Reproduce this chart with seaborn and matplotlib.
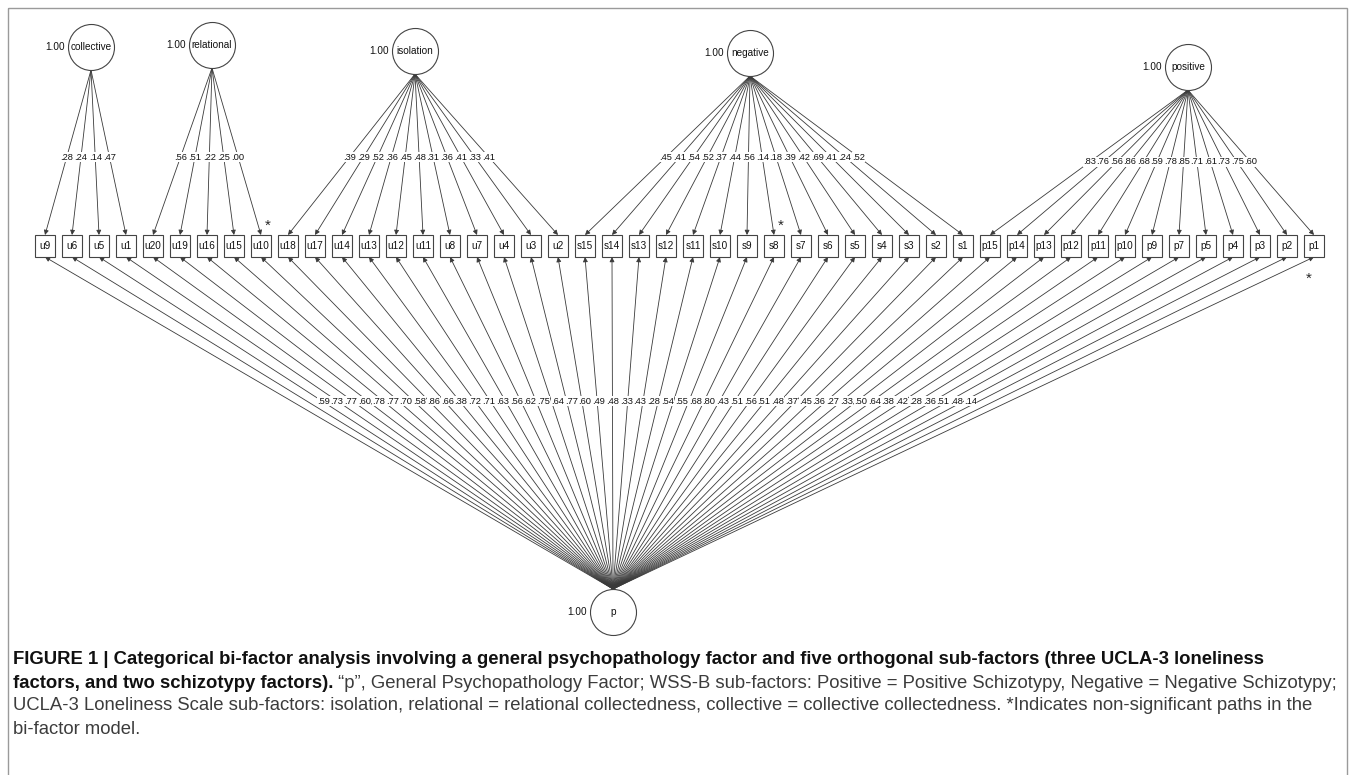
import numpy as np
import pandas as pd
import seaborn as sns
import matplotlib.pyplot as plt
from matplotlib.patches import Rectangle

sns.set_theme(style="white")
plt.rcParams['font.family'] = ['Liberation Sans', 'DejaVu Sans']

# ---- data ----
collective_items = ['u9', 'u6', 'u5', 'u1']
collective_load = ['.28', '.24', '.14', '.47']
relational_items = ['u20', 'u19', 'u16', 'u15', 'u10']
relational_load = ['.56', '.51', '.22', '.25', '.00']
isolation_items = ['u18', 'u17', 'u14', 'u13', 'u12', 'u11', 'u8', 'u7', 'u4', 'u3', 'u2']
isolation_load = ['.39', '.29', '.52', '.36', '.45', '.48', '.31', '.36', '.41', '.33', '.41']
negative_items = ['s15', 's14', 's13', 's12', 's11', 's10', 's9', 's8', 's7', 's6', 's5',
                  's4', 's3', 's2', 's1']
negative_load = ['.45', '.41', '.54', '.52', '.37', '.44', '.56', '.14', '.18', '.39', '.42',
                 '.69', '.41', '.24', '.52']
positive_items = ['p15', 'p14', 'p13', 'p12', 'p11', 'p10', 'p9', 'p7', 'p5', 'p4', 'p3', 'p2', 'p1']
positive_load = ['.83', '.76', '.56', '.86', '.68', '.59', '.78', '.85', '.71', '.61', '.73',
                 '.75', '.60']
general_load = ['.59', '.73', '.77', '.60', '.78', '.77', '.70', '.58', '.86', '.66', '.38', '.72',
                '.71', '.63', '.56', '.62', '.75', '.64', '.77', '.60', '.49', '.48', '.33', '.43',
                '.28', '.54', '.55', '.68', '.80', '.43', '.51', '.56', '.51', '.48', '.37', '.45',
                '.36', '.27', '.33', '.50', '.64', '.38', '.42', '.28', '.36', '.51', '.48', '.14']
factor_names = ['collective', 'relational', 'isolation', 'negative', 'positive']
factor_variance = ['1.00', '1.00', '1.00', '1.00', '1.00']
nonsig_sub = ['u10', 's8']
nonsig_general = ['p1']

# ---- layout (pixels) ----
W, H = 1355, 775
BOX_X0, BOX_DX = 45, 27.0
BOX_W, BOX_TOP, BOX_BOT = 20, 235, 257
R = 23
factor_xy = {'collective': (91, 47), 'relational': (212, 45), 'isolation': (415, 51),
             'negative': (750, 53), 'positive': (1188, 67)}
P_XY = (613, 612)
SUB_LABEL_Y = {'collective': 157, 'relational': 157, 'isolation': 157, 'negative': 157,
               'positive': 162}
GEN_LABEL_Y = 401
LINE_COL = '#3a3a3a'
LAB_FS = 6.7

rows = []
for f, items, loads in zip(factor_names,
                           [collective_items, relational_items, isolation_items,
                            negative_items, positive_items],
                           [collective_load, relational_load, isolation_load,
                            negative_load, positive_load]):
    for it, ld in zip(items, loads):
        rows.append({'item': it, 'factor': f, 'load': ld})
ind = pd.DataFrame(rows)
ind['general'] = general_load
ind['x'] = BOX_X0 + BOX_DX * np.arange(len(ind))

fig = plt.figure(figsize=(W / 100, H / 100), dpi=100)
ax = fig.add_axes([0, 0, 1, 1])

# outer frame (bottom edge falls off the canvas)
ax.add_patch(Rectangle((8, 8), W - 16, H + 20, fill=False, ec='#9a9a9a', lw=1))


def arrow(x0, y0, x1, y1):
    ax.annotate('', xy=(x1, y1), xytext=(x0, y0),
                arrowprops=dict(arrowstyle='-|>', color=LINE_COL, lw=0.6,
                                mutation_scale=7, shrinkA=0, shrinkB=0), zorder=2)


def edge_label(x, y, s):
    # white knock-out under the text first, then the text itself on top of all knock-outs
    ax.text(x, y, s, fontsize=LAB_FS, ha='center', va='center', color='white', zorder=3,
            bbox=dict(fc='white', ec='none', pad=0.2))
    ax.text(x, y, s, fontsize=LAB_FS, ha='center', va='center', color='#111111', zorder=4)


# sub-factor paths
for _, r in ind.iterrows():
    cx, cy = factor_xy[r['factor']]
    x0, y0 = cx, cy + R
    arrow(x0, y0, r['x'], BOX_TOP)
    ly = SUB_LABEL_Y[r['factor']]
    t = (ly - y0) / (BOX_TOP - y0)
    edge_label(x0 + t * (r['x'] - x0), ly, r['load'])

# general factor paths (labels near the edge midpoints)
px, py = P_XY
for _, r in ind.iterrows():
    x0, y0 = px, py - R
    arrow(x0, y0, r['x'], BOX_BOT)
    edge_label(x0 + 0.51 * (r['x'] - x0), GEN_LABEL_Y, r['general'])

# indicator boxes
for _, r in ind.iterrows():
    ax.add_patch(Rectangle((r['x'] - BOX_W / 2, BOX_TOP), BOX_W, BOX_BOT - BOX_TOP,
                           fc='white', ec='#444444', lw=0.8, zorder=5))
    ax.text(r['x'], (BOX_TOP + BOX_BOT) / 2, r['item'], fontsize=7.2, ha='center',
            va='center', zorder=6, color='#111111')

# latent variables
lat = pd.DataFrame({'name': factor_names + ['p'],
                    'x': [factor_xy[f][0] for f in factor_names] + [px],
                    'y': [factor_xy[f][1] for f in factor_names] + [py],
                    'var': factor_variance + ['1.00']})
sns.scatterplot(data=lat, x='x', y='y', s=(2 * R * 0.72) ** 2, marker='o', color='white',
                edgecolor='#444444', linewidth=0.8, ax=ax, zorder=7, legend=False)
for _, r in lat.iterrows():
    ax.text(r['x'], r['y'], r['name'], fontsize=7.2, ha='center', va='center', zorder=8,
            color='#111111')
    ax.text(r['x'] - R - 3, r['y'], r['var'], fontsize=7.2, ha='right', va='center', zorder=8,
            color='#111111')
ax.set_xlim(0, W)
ax.set_ylim(H, 0)
ax.axis('off')

# non-significant markers
for it in nonsig_sub:
    bx = ind.loc[ind['item'] == it, 'x'].iloc[0]
    ax.text(bx + 7, BOX_TOP - 9, '*', fontsize=11, ha='center', va='center', zorder=8)
for it in nonsig_general:
    bx = ind.loc[ind['item'] == it, 'x'].iloc[0]
    ax.text(bx - 5, BOX_BOT + 22, '*', fontsize=11, ha='center', va='center', zorder=8)

# caption
cap_fam = ['Liberation Sans Narrow', 'Liberation Sans', 'DejaVu Sans']
bold1 = ('FIGURE 1 | Categorical bi-factor analysis involving a general psychopathology '
         'factor and five orthogonal sub-factors (three UCLA-3 loneliness')
bold2 = 'factors, and two schizotypy factors).'
reg2 = (' \u201cp\u201d, General Psychopathology Factor; WSS-B sub-factors: Positive = Positive '
        'Schizotypy, Negative = Negative Schizotypy;')
reg3 = ('UCLA-3 Loneliness Scale sub-factors: isolation, relational = relational collectedness, '
        'collective = collective collectedness. *Indicates non-significant paths in the')
reg4 = 'bi-factor model.'

renderer = fig.canvas.get_renderer()
CAP_X = 13
t1 = ax.text(CAP_X, 660, bold1, fontsize=11, weight='bold', family=cap_fam,
             va='center', color='#111111')
w1 = t1.get_window_extent(renderer).width
fs = 11 * 1255 / w1
t1.set_fontsize(fs)
t2 = ax.text(CAP_X, 683, bold2, fontsize=fs, weight='bold', family=cap_fam, va='center',
             color='#111111')
w2 = t2.get_window_extent(renderer).width
ax.text(CAP_X + w2, 683, reg2, fontsize=fs, family=cap_fam, va='center', color='#3c3c3c')
ax.text(CAP_X, 706, reg3, fontsize=fs, family=cap_fam, va='center', color='#3c3c3c')
ax.text(CAP_X, 729, reg4, fontsize=fs, family=cap_fam, va='center', color='#3c3c3c')

fig.savefig('out.png', dpi=100)
